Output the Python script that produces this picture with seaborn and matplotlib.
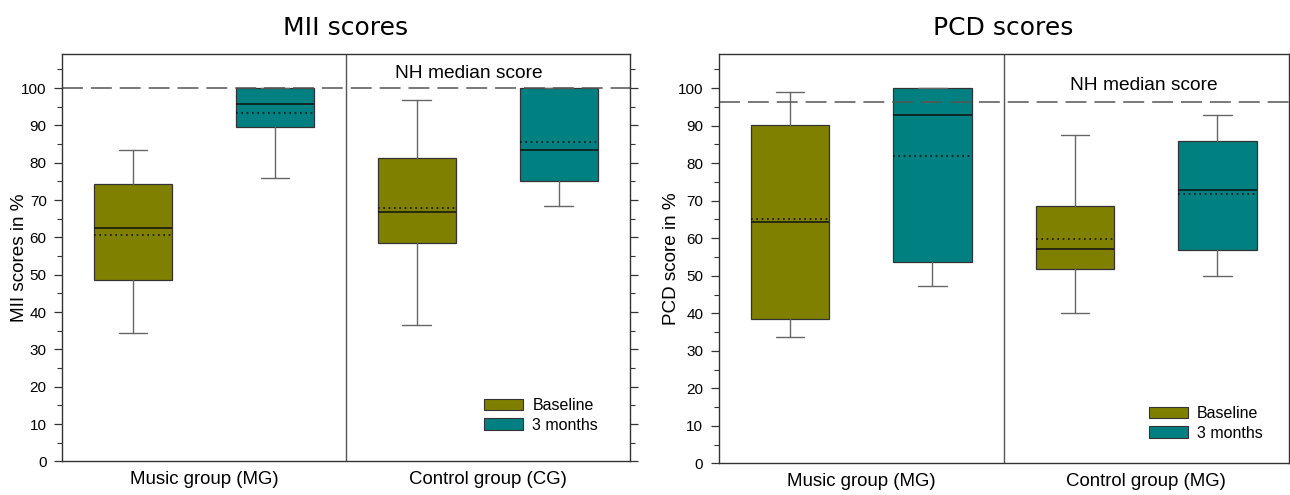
import matplotlib
matplotlib.use('Agg')
import matplotlib.pyplot as plt
from matplotlib.patches import Patch
from matplotlib.ticker import MultipleLocator
import numpy as np
import pandas as pd
import seaborn as sns

## Datos
grupos_mii = ['Music group (MG)', 'Control group (CG)']
grupos_pcd = ['Music group (MG)', 'Control group (MG)']
momentos = ['Baseline', '3 months']

# orden: MG baseline, MG 3 months, CG baseline, CG 3 months
mii_whislo = [34.3, 75.8, 36.6, 68.3]
mii_q1 = [48.5, 89.5, 58.4, 75.0]
mii_med = [62.5, 95.8, 66.8, 83.3]
mii_mean = [60.7, 93.4, 68.0, 85.5]
mii_q3 = [74.4, 100.0, 81.3, 100.0]
mii_whishi = [83.3, 100.0, 96.7, 100.0]
mii_nh = 100.0

pcd_whislo = [33.8, 47.2, 40.1, 50.0]
pcd_q1 = [38.4, 53.7, 51.8, 56.9]
pcd_med = [64.2, 92.9, 57.1, 72.8]
pcd_mean = [65.0, 81.9, 59.9, 71.8]
pcd_q3 = [90.2, 100.0, 68.6, 85.8]
pcd_whishi = [99.1, 100.0, 87.5, 92.8]
pcd_nh = 96.4

colores = {'Baseline': '#808000', '3 months': '#008080'}

sns.set_style('ticks')
plt.rcParams['font.family'] = ['Liberation Sans', 'DejaVu Sans']
plt.rcParams['text.color'] = 'black'
plt.rcParams['axes.labelcolor'] = 'black'
plt.rcParams['ytick.color'] = '#333333'
plt.rcParams['ytick.labelcolor'] = 'black'
plt.rcParams['xtick.labelcolor'] = 'black'


def tabla(whislo, q1, med, mean, q3, whishi):
    filas = []
    for i in range(4):
        filas.append({'grupo': i // 2, 'momento': momentos[i % 2],
                      'whislo': whislo[i], 'q1': q1[i], 'med': med[i],
                      'mean': mean[i], 'q3': q3[i], 'whishi': whishi[i]})
    return pd.DataFrame(filas)


def panel(ax, df, grupos, nh, titulo, ylabel, nh_xy, ylab_x, leg_xy):
    offs = {'Baseline': -0.25, '3 months': 0.25}
    for _, r in df.iterrows():
        st = [dict(whislo=r.whislo, q1=r.q1, med=r.med, mean=r['mean'],
                   q3=r.q3, whishi=r.whishi, fliers=[])]
        ax.bxp(st, positions=[r.grupo + offs[r.momento]], widths=0.275,
               capwidths=0.1, patch_artist=True, showmeans=True, meanline=True,
               boxprops=dict(facecolor=colores[r.momento], edgecolor='#333333', linewidth=0.9),
               medianprops=dict(color='#111111', linewidth=1.1),
               meanprops=dict(color='#111111', linestyle=(0, (1, 2.2)), linewidth=1.2),
               whiskerprops=dict(color='#666666', linewidth=1.0),
               capprops=dict(color='#666666', linewidth=1.0))
    ax.axhline(nh, color='#555555', linewidth=1.1, dashes=(13.7, 5.2))
    ax.axvline(0.5, color='#555555', linewidth=1.0)
    ax.text(nh_xy[0], nh_xy[1], 'NH median score', ha='center', va='center', fontsize=13.8)
    ax.set_xlim(-0.5, 1.5)
    ax.set_ylim(0, 109)
    ax.set_xticks([0, 1])
    ax.set_xticklabels(grupos, fontsize=13.4)
    ax.tick_params(axis='x', length=0, pad=7)
    ax.yaxis.set_major_locator(MultipleLocator(10))
    ax.yaxis.set_minor_locator(MultipleLocator(5))
    ax.set_yticks(np.arange(0, 101, 10))
    ax.tick_params(axis='y', which='major', length=6, width=0.9, labelsize=11,
                   right=True, pad=5)
    ax.tick_params(axis='y', which='minor', length=3.5, width=0.8, right=True)
    ax.set_ylabel(ylabel, fontsize=13.6)
    ax.yaxis.set_label_coords(ylab_x, 0.5)
    for s in ax.spines.values():
        s.set_visible(True)
        s.set_color('#333333')
        s.set_linewidth(1.0)
    ax.set_title(titulo, fontsize=18, family='DejaVu Sans', pad=14)
    handles = [Patch(facecolor=colores[m], edgecolor='#333333', linewidth=0.8, label=m) for m in momentos]
    ax.legend(handles=handles, loc='lower right', frameon=False, fontsize=11.5,
              handlelength=2.4, handleheight=0.75, handletextpad=0.6, labelspacing=0.3,
              bbox_to_anchor=leg_xy)


fig = plt.figure(figsize=(12.9, 4.95), dpi=100)
ax1 = fig.add_axes([0.048, 0.068, 0.440, 0.822])
ax2 = fig.add_axes([0.557, 0.064, 0.442, 0.826])

panel(ax1, tabla(mii_whislo, mii_q1, mii_med, mii_mean, mii_q3, mii_whishi),
      grupos_mii, mii_nh, 'MII scores', 'MII scores in %', (0.935, 103.8), -0.060,
      (0.97, 0.035))
panel(ax2, tabla(pcd_whislo, pcd_q1, pcd_med, pcd_mean, pcd_q3, pcd_whishi),
      grupos_pcd, pcd_nh, 'PCD scores', 'PCD score in %', (0.99, 100.7), -0.068,
      (0.98, 0.02))

fig.savefig('out.png', dpi=100)
